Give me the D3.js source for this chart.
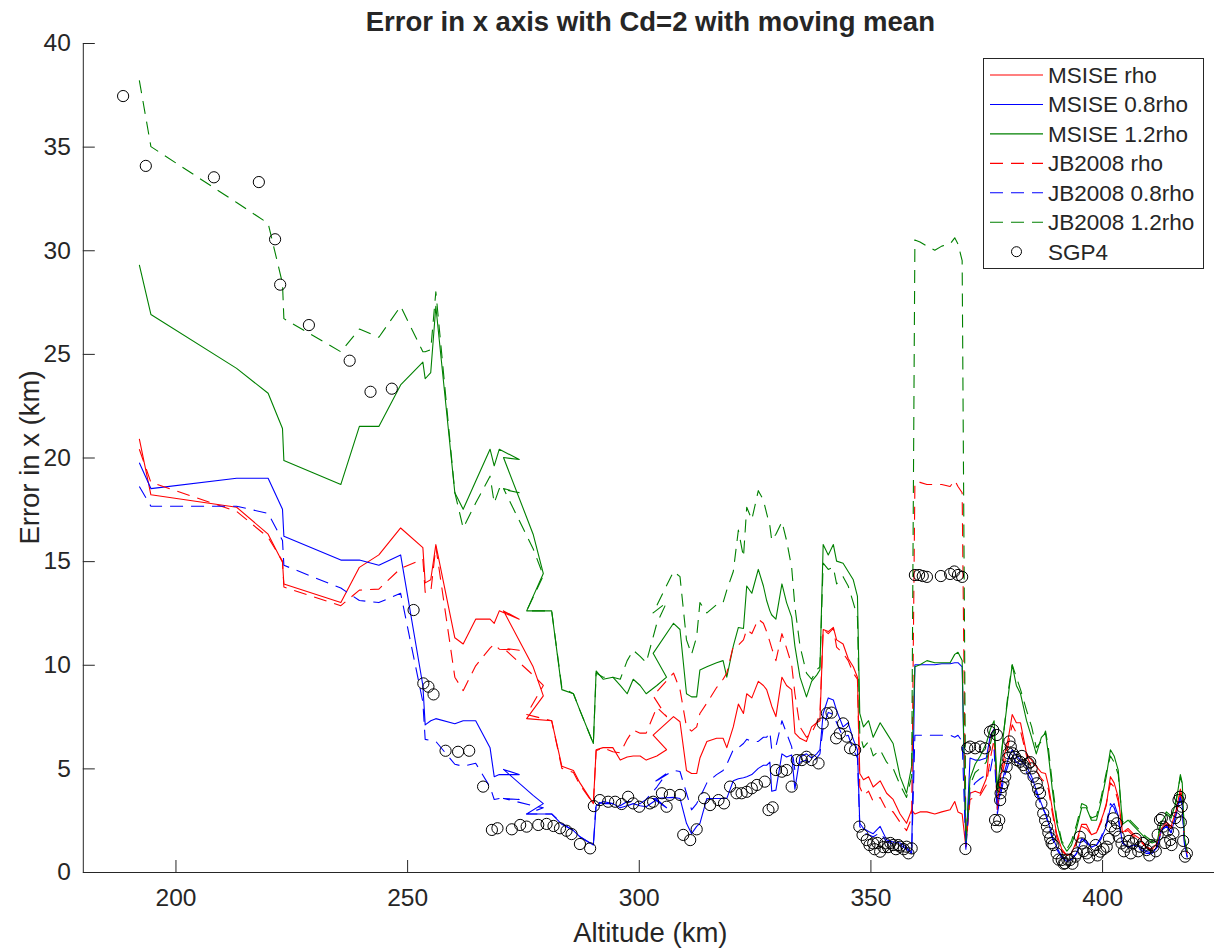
<!DOCTYPE html>
<html>
<head>
<meta charset="utf-8">
<script src="https://cdn.jsdelivr.net/npm/d3@7"></script>
<style>
  body { margin: 0; background: #fff; }
  text { font-family: "Liberation Sans", Arial, Helvetica, sans-serif; fill: #262626; }
</style>
</head>
<body>
<svg id="chart" width="1214" height="951"></svg>
<script>
// Altitude of each averaged sample (km), in sample order (the track doubles back in places)
const altitude = [
  192.2, 194.7, 213.2, 220.0, 223.1, 223.4, 235.7, 239.7, 243.9, 248.6,
  253.4, 253.9, 255.1, 256.2, 260.3, 262.1, 264.8, 267.9, 268.8, 269.9,
  274.2, 270.8, 277.2, 279.4, 275.8, 281.2, 283.4, 285.9, 287.3, 290.2,
  290.8, 292.3, 294.4, 296.0, 297.5, 298.8, 300.3, 301.6, 303.9, 306.0,
  303.1, 307.5, 308.9, 310.3, 311.4, 312.5, 313.2, 314.7, 316.8, 318.2,
  319.0, 320.4, 321.5, 322.6, 323.3, 324.4, 325.8, 326.9, 327.6, 328.3,
  328.7, 329.6, 330.9, 331.9, 333.0, 333.7, 334.8, 336.2, 337.3, 338.4,
  339.1, 339.8, 340.9, 342.0, 342.7, 344.1, 345.2, 346.3, 347.2, 347.7,
  348.5, 349.6, 350.6, 352.1, 353.5, 354.9, 356.4, 357.8, 358.9, 359.6,
  360.7, 362.2, 363.9, 365.4, 367.2, 368.2, 368.9, 369.8, 370.6, 371.5,
  372.6, 373.7, 375.0, 375.9, 376.7, 377.4, 378.0, 378.9, 379.8, 380.6,
  381.5, 382.4, 383.7, 384.8, 385.8, 386.9, 387.8, 388.4, 389.3, 390.2,
  391.3, 392.4, 393.4, 394.5, 395.6, 396.6, 397.7, 398.8, 399.8, 400.9,
  401.8, 402.6, 403.5, 404.4, 405.6, 406.9, 408.2, 409.5, 410.8, 411.9,
  412.8, 413.9, 414.9, 416.0, 416.9, 417.3, 417.8, 418.4
];

// MSISE density model, nominal rho
const msiseRho = [
  20.9, 18.2, 17.6, 16.3, 14.95, 13.9, 13.0, 14.7, 15.3, 16.6,
  15.65, 13.95, 14.1, 15.8, 11.3, 11.0, 12.2, 12.2, 12.0, 12.6,
  12.2, 12.6, 9.9, 8.5, 7.4, 7.3, 5.1, 4.9, 4.3, 3.3,
  5.9, 6.0, 6.0, 5.4, 5.55, 5.6, 5.6, 5.4, 5.6, 5.9,
  6.6, 7.5, 7.25, 4.9, 4.75, 4.75, 5.5, 6.3, 6.45, 6.45,
  6.0, 7.0, 8.1, 7.65, 8.6, 8.4, 9.2, 9.0, 8.8, 8.3,
  8.0, 7.5, 9.4, 9.0, 8.8, 6.7, 6.45, 6.3, 7.0, 7.2,
  7.3, 11.7, 11.6, 11.8, 11.2, 11.0, 10.3, 9.9, 9.4, 4.75,
  4.45, 4.6, 4.1, 4.4, 3.8, 3.5, 2.8, 2.35, 3.0, 2.8,
  2.9, 2.9, 2.8, 2.9, 3.0, 3.4, 2.9, 2.8, 1.2, 3.8,
  3.9, 3.8, 4.5, 6.6, 6.9, 3.2, 4.5, 5.6, 6.5, 7.6,
  7.2, 7.2, 5.7, 5.4, 5.1, 4.8, 4.75, 4.2, 3.0, 1.85,
  1.1, 0.8, 0.9, 1.5, 2.3, 2.3, 1.8, 1.9, 2.5, 3.2,
  4.6, 4.3, 3.6, 1.9, 2.1, 1.8, 1.6, 1.2, 1.1, 1.4,
  2.1, 2.4, 2.2, 3.0, 4.0, 3.6, 1.5, 0.9
];

// MSISE density model, 0.8 rho
const msise08 = [
  19.75, 18.5, 19.0, 19.0, 17.5, 16.2, 15.05, 15.05, 14.8, 15.3,
  9.0, 7.1, 7.3, 7.4, 7.15, 7.3, 7.3, 6.0, 4.6, 4.7,
  4.7, 4.95, 3.7, 3.3, 2.8, 2.8, 2.3, 2.0, 1.7, 1.3,
  3.2, 3.4, 3.3, 3.1, 3.2, 3.3, 3.2, 3.15, 3.5, 3.1,
  3.55, 3.6, 3.55, 2.35, 1.85, 2.2, 2.35, 3.55, 3.55, 3.55,
  3.55, 4.4, 4.5, 4.55, 4.6, 4.7, 5.0, 5.15, 5.15, 5.3,
  3.9, 3.95, 5.7, 5.55, 5.65, 4.0, 5.55, 5.7, 5.5, 5.7,
  5.9, 7.65, 8.4, 8.3, 7.8, 7.0, 7.2, 6.4, 5.9, 2.35,
  2.1, 1.95, 1.85, 2.2, 1.55, 1.45, 1.4, 1.2, 0.9, 10.0,
  10.0, 10.0, 10.0, 10.05, 10.05, 10.1, 10.1, 9.9, 1.1, 5.5,
  5.4, 5.4, 5.5, 6.6, 6.9, 3.0, 3.9, 4.8, 5.5, 5.9,
  5.6, 5.4, 5.1, 4.6, 3.95, 3.3, 2.8, 2.4, 1.7, 1.2,
  0.75, 0.5, 0.6, 0.9, 1.6, 1.5, 1.2, 1.3, 1.6, 2.2,
  3.1, 3.3, 2.7, 1.4, 1.2, 1.3, 1.2, 1.0, 0.9, 1.2,
  2.0, 2.3, 1.9, 2.8, 3.7, 3.2, 1.3, 0.7
];

// MSISE density model, 1.2 rho
const msise12 = [
  29.3, 26.9, 24.3, 23.1, 21.4, 19.85, 18.7, 21.5, 21.5, 23.5,
  24.6, 23.8, 24.1, 27.3, 18.3, 17.5, 18.85, 20.4, 19.6, 20.4,
  19.9, 20.0, 16.3, 14.4, 12.6, 12.6, 8.8, 8.6, 7.8, 6.2,
  9.7, 9.3, 9.4, 9.0, 8.6, 9.3, 9.0, 8.6, 9.0, 9.4,
  10.55, 12.0, 11.7, 8.6, 8.45, 8.45, 9.75, 9.9, 10.1, 10.2,
  9.4, 10.9, 11.8, 11.75, 13.8, 13.45, 14.6, 13.8, 13.1, 12.6,
  12.4, 12.2, 13.9, 13.0, 12.3, 10.9, 9.4, 8.45, 9.2, 9.5,
  9.75, 15.8, 15.3, 15.8, 15.0, 14.9, 14.5, 14.1, 13.3, 7.65,
  7.0, 7.3, 6.5, 7.2, 6.7, 6.2, 4.6, 3.8, 5.1, 9.9,
  10.0, 10.2, 10.1, 10.1, 10.1, 10.5, 10.6, 10.2, 1.4, 4.5,
  5.2, 5.6, 6.2, 6.9, 7.3, 4.0, 5.2, 7.0, 8.6, 10.0,
  9.0, 8.6, 7.3, 6.5, 5.7, 6.5, 6.7, 5.7, 3.9, 2.4,
  1.4, 1.0, 1.3, 2.1, 3.1, 3.1, 2.5, 2.5, 3.4, 4.6,
  5.9, 5.6, 4.9, 2.3, 2.5, 2.2, 1.9, 1.6, 1.4, 1.5,
  2.4, 2.8, 2.6, 3.4, 4.7, 4.3, 1.6, 1.0
];

// JB2008 density model, nominal rho
const jbRho = [
  20.4, 18.8, 17.4, 16.15, 15.0, 13.75, 12.85, 13.6, 13.65, 14.65,
  15.1, 13.5, 13.5, 15.7, 9.4, 8.75, 9.95, 10.8, 11.0, 10.75,
  10.7, 10.8, 9.5, 9.0, 7.6, 7.3, 5.0, 4.8, 4.2, 3.3,
  5.85, 6.0, 5.8, 5.75, 6.4, 6.85, 6.7, 6.7, 7.95, 7.5,
  8.5, 9.6, 8.8, 7.0, 6.8, 7.0, 7.65, 8.15, 8.9, 9.3,
  9.6, 10.9, 10.95, 11.2, 11.7, 11.5, 12.2, 12.0, 11.6, 11.1,
  10.8, 10.2, 11.5, 10.8, 10.0, 8.6, 7.0, 6.5, 6.7, 7.2,
  7.65, 11.7, 11.5, 11.75, 10.85, 10.55, 10.2, 9.6, 9.3, 4.1,
  3.7, 3.9, 3.4, 3.6, 3.0, 2.9, 2.4, 2.0, 2.6, 18.8,
  18.8, 18.7, 18.7, 18.7, 18.6, 18.9, 18.6, 18.3, 1.3, 3.5,
  3.6, 3.7, 4.2, 5.5, 6.4, 3.0, 4.2, 5.2, 6.2, 7.1,
  6.7, 6.8, 5.6, 5.1, 4.9, 4.5, 4.3, 4.0, 2.8, 1.7,
  1.0, 0.8, 0.9, 1.4, 2.2, 2.1, 1.8, 1.9, 2.4, 3.3,
  4.3, 4.1, 3.4, 1.9, 2.0, 1.7, 1.5, 1.2, 1.0, 1.3,
  2.0, 2.3, 2.1, 2.8, 3.8, 3.5, 1.4, 0.9
];

// JB2008 density model, 0.8 rho
const jb08 = [
  18.6, 17.65, 17.65, 17.3, 16.0, 14.8, 13.7, 13.1, 13.0, 13.45,
  8.2, 6.4, 6.35, 6.3, 5.2, 5.1, 5.25, 4.1, 3.5, 3.55,
  3.5, 3.55, 3.2, 3.1, 2.8, 2.8, 2.35, 2.0, 1.7, 1.3,
  3.4, 3.3, 3.3, 3.2, 3.4, 3.4, 3.3, 3.5, 4.1, 4.75,
  4.3, 4.9, 4.85, 3.8, 3.0, 3.3, 3.6, 4.3, 4.7, 4.9,
  5.2, 5.9, 6.0, 6.2, 6.4, 6.3, 6.3, 6.5, 6.5, 6.75,
  5.9, 6.05, 7.3, 6.7, 6.05, 4.9, 5.3, 5.4, 5.2, 5.5,
  5.7, 7.0, 7.7, 7.6, 7.2, 6.5, 6.6, 5.9, 5.5, 2.2,
  1.9, 1.8, 1.7, 1.9, 1.45, 1.35, 1.3, 1.1, 0.9, 6.6,
  6.6, 6.6, 6.6, 6.6, 6.6, 6.5, 6.6, 6.3, 1.1, 3.9,
  4.3, 4.5, 4.7, 4.9, 5.9, 2.8, 3.6, 4.6, 5.2, 5.6,
  5.3, 5.2, 4.8, 4.4, 3.8, 3.2, 2.8, 2.3, 1.6, 1.1,
  0.7, 0.5, 0.6, 0.9, 1.6, 1.4, 1.2, 1.3, 1.7, 2.3,
  3.3, 3.1, 2.5, 1.4, 1.2, 1.3, 1.1, 0.9, 0.9, 1.2,
  2.0, 2.2, 1.9, 2.8, 3.6, 3.1, 1.3, 0.7
];

// JB2008 density model, 1.2 rho
const jb12 = [
  38.2, 35.0, 32.3, 31.3, 28.4, 26.7, 25.1, 26.2, 25.8, 27.3,
  25.1, 25.1, 25.2, 28.0, 18.3, 16.6, 17.8, 19.1, 17.8, 18.5,
  18.3, 18.5, 15.6, 14.3, 12.6, 12.6, 8.9, 8.6, 7.8, 6.2,
  9.6, 9.4, 9.4, 9.3, 10.2, 10.7, 10.4, 10.1, 12.0, 13.0,
  12.5, 14.5, 14.25, 11.2, 10.5, 11.35, 13.0, 12.5, 12.9, 13.0,
  13.6, 14.5, 16.5, 15.2, 17.6, 17.0, 18.4, 17.95, 17.3, 16.7,
  16.0, 16.3, 16.9, 16.0, 14.7, 12.8, 10.9, 9.6, 9.3, 9.75,
  9.9, 14.9, 14.6, 14.7, 13.9, 14.25, 13.8, 13.0, 12.3, 6.7,
  6.0, 6.3, 5.6, 5.9, 5.3, 5.0, 4.2, 3.6, 4.6, 30.5,
  30.4, 30.2, 30.0, 30.2, 30.3, 30.6, 30.3, 29.5, 1.5, 4.2,
  4.8, 5.0, 5.3, 6.2, 6.9, 3.7, 5.0, 7.0, 8.8, 10.0,
  9.4, 8.8, 7.8, 7.0, 6.0, 6.3, 6.8, 6.0, 4.2, 2.6,
  1.5, 1.1, 1.5, 2.3, 3.3, 3.2, 2.6, 2.7, 3.6, 4.8,
  5.6, 5.3, 4.7, 2.4, 2.6, 2.3, 2.0, 1.7, 1.5, 1.6,
  2.5, 2.9, 2.7, 3.5, 4.6, 4.2, 1.6, 1.0
];

// SGP4 propagation error, sampled at its own altitudes
const sgp4Alt = [
  188.7, 193.6, 208.3, 218.0, 221.5, 222.6, 228.8, 237.6, 242.1, 246.7,
  251.4, 253.5, 254.6, 255.7, 258.3, 261.0, 263.4, 266.4, 268.3, 269.5,
  272.6, 274.4, 275.8, 278.3, 280.1, 281.6, 283.0, 284.4, 285.5, 287.3,
  289.5, 290.3, 291.6, 293.4, 294.9, 296.3, 297.7, 298.8, 300.1, 302.4,
  303.1, 305.0, 306.0, 306.7, 308.9, 309.6, 311.1, 312.5, 314.1, 315.4,
  317.2, 318.4, 319.7, 321.1, 322.2, 323.3, 324.4, 325.5, 327.2, 328.0,
  328.9, 329.6, 330.9, 331.9, 333.0, 334.1, 335.2, 336.2, 337.3, 338.8,
  339.7, 340.6, 341.6, 342.6, 343.4, 344.1, 344.9, 345.6, 346.7, 347.6,
  348.3, 349.2, 349.8, 350.6, 350.9, 351.5, 352.1, 352.8, 353.2, 353.8,
  354.3, 354.9, 355.5, 356.0, 356.4, 357.2, 357.8, 358.2, 358.9,
  359.6, 360.5, 361.3, 362.2, 365.2, 367.2, 368.1, 368.9, 369.8, 370.5,
  370.9, 371.5, 372.6, 373.7, 374.7, 375.8, 376.5, 377.3, 376.9, 377.3,
  377.8, 378.0, 378.1, 378.4, 378.7, 379.1, 379.4, 379.6, 379.8, 380.0,
  380.3, 380.7, 381.2, 381.6, 382.3, 382.7, 383.0, 383.5, 384.1, 384.5,
  384.8, 385.2, 385.9, 386.2, 386.6, 386.9, 387.3, 387.7, 388.1, 388.4,
  388.8, 389.1, 389.5, 390.2, 390.6, 391.3, 391.7, 392.0, 392.5, 393.1,
  393.6, 394.2, 394.6, 395.2, 395.6, 396.0, 396.7, 397.2, 398.1, 398.6,
  399.0, 399.6, 400.3, 401.0, 401.5, 401.9, 402.4, 402.8, 403.2, 403.6,
  404.2, 404.7, 405.3, 405.8, 406.2, 406.7, 407.3, 407.8, 408.2, 408.8,
  409.6, 410.2, 410.6, 411.1, 411.6, 412.0, 412.5, 412.9, 413.2, 413.6,
  414.2, 414.7, 415.0, 415.4, 415.8, 416.2, 416.5, 416.8, 417.0, 417.2,
  417.5, 417.9, 418.3
];
const sgp4Err = [
  37.44, 34.07, 33.52, 33.29, 30.53, 28.34, 26.39, 24.67, 23.17, 23.32,
  12.64, 9.1, 8.94, 8.57, 5.85, 5.8, 5.85, 4.12, 2.03, 2.11,
  2.06, 2.27, 2.19, 2.27, 2.32, 2.22, 2.11, 1.99, 1.83, 1.35,
  1.14, 3.18, 3.47, 3.39, 3.39, 3.28, 3.63, 3.31, 3.15, 3.31,
  3.39, 3.8, 3.15, 3.72, 3.72, 1.79, 1.54, 2.06, 3.56, 3.23,
  3.47, 3.31, 4.12, 3.8, 3.8, 3.87, 4.04, 4.2, 4.36, 2.99,
  3.12, 4.92, 4.84, 4.92, 4.12, 5.4, 5.4, 5.56, 5.4, 5.24,
  7.17, 7.66, 7.69, 6.45, 6.69, 7.17, 6.53, 5.97, 5.89, 2.19,
  1.79, 1.54, 1.3, 1.38, 1.1, 1.4, 0.98, 1.2, 1.38, 1.2,
  1.4, 1.3, 1.1, 1.3, 1.22, 1.1, 1.22, 0.9, 1.14,
  14.33, 14.33, 14.28, 14.24, 14.28, 14.38, 14.5, 14.33, 14.24, 1.11,
  5.97, 6.05, 5.97, 6.05, 5.97, 6.77, 6.85, 6.61, 2.51, 2.19,
  2.5, 3.47, 3.8, 4.1, 4.28, 4.6, 5.08, 5.5, 5.73, 6.3,
  6.05, 5.73, 5.56, 5.4, 5.32, 5.6, 5.16, 5.0, 5.24, 5.3,
  5.0, 4.6, 4.28, 4.0, 3.8, 3.3, 2.83, 2.5, 2.19, 1.9,
  1.63, 1.4, 1.3, 0.9, 0.6, 0.58, 0.4, 0.42, 0.6, 0.58,
  0.4, 0.74, 0.9, 1.7, 1.38, 1.0, 0.9, 0.7, 1.06, 1.3,
  0.8, 0.98, 1.1, 1.22, 1.6, 2.2, 2.59, 2.0, 2.35, 1.7,
  1.38, 1.0, 1.22, 1.5, 0.9, 1.38, 1.6, 1.0, 1.22, 1.4,
  1.06, 0.8, 1.3, 1.22, 1.0, 1.8, 2.51, 2.6, 2.19, 1.4,
  2.0, 1.54, 1.3, 1.87, 2.6, 2.9, 3.47, 3.63, 2.4, 3.15,
  1.5, 0.74, 0.9
];

const xTicks = [200, 250, 300, 350, 400];
const yTicks = [0, 5, 10, 15, 20, 25, 30, 35, 40];

const seriesNames = ["MSISE rho", "MSISE 0.8rho", "MSISE 1.2rho", "JB2008 rho", "JB2008 0.8rho", "JB2008 1.2rho"];
const seriesValues = [msiseRho, msise08, msise12, jbRho, jb08, jb12];
const seriesColors = ["#ff0000", "#0000ff", "#008000", "#ff0000", "#0000ff", "#008000"];
const seriesDashed = [false, false, false, true, true, true];

const svg = d3.select("#chart");
const plot = { left: 82.8, right: 1217.9, top: 43, bottom: 872 };

const x = d3.scaleLinear().domain([180, 425]).range([plot.left, plot.right]);
const y = d3.scaleLinear().domain([0, 40]).range([plot.bottom, plot.top]);

svg.append("rect").attr("width", 1214).attr("height", 951).attr("fill", "#fff");

// Axes with inward ticks, left and bottom only
const axisColor = "#262626";
const xAxis = svg.append("g")
  .attr("transform", `translate(0,${plot.bottom})`)
  .call(d3.axisBottom(x).tickValues(xTicks).tickSizeInner(-12).tickSizeOuter(0).tickPadding(17));
const yAxis = svg.append("g")
  .attr("transform", `translate(${plot.left},0)`)
  .call(d3.axisLeft(y).tickValues(yTicks).tickSizeInner(-12).tickSizeOuter(0).tickPadding(12));

[xAxis, yAxis].forEach(g => {
  g.select(".domain").attr("stroke", axisColor).attr("stroke-width", 1);
  g.selectAll(".tick line").attr("stroke", axisColor).attr("stroke-width", 1);
  g.selectAll(".tick text")
    .attr("fill", axisColor)
    .style("font-family", '"Liberation Sans", Arial, sans-serif')
    .style("font-size", "24.5px");
});

// Series lines
const clip = svg.append("clipPath").attr("id", "plotClip")
  .append("rect").attr("x", plot.left).attr("y", plot.top - 10)
  .attr("width", plot.right - plot.left).attr("height", plot.bottom - plot.top + 10);

const lineGen = d3.line().x(d => x(d[0])).y(d => y(d[1]));
const gLines = svg.append("g").attr("clip-path", "url(#plotClip)");
seriesValues.forEach((vals, i) => {
  const pts = altitude.map((a, k) => [a, vals[k]]);
  gLines.append("path")
    .attr("d", lineGen(pts))
    .attr("fill", "none")
    .attr("stroke", seriesColors[i])
    .attr("stroke-width", 1.1)
    .attr("stroke-linejoin", "round")
    .attr("stroke-dasharray", seriesDashed[i] ? "13,8" : null);
});

// SGP4 markers
svg.append("g").selectAll("circle")
  .data(sgp4Alt.map((a, k) => [a, sgp4Err[k]]))
  .join("circle")
  .attr("cx", d => x(d[0]))
  .attr("cy", d => y(d[1]))
  .attr("r", 5.6)
  .attr("fill", "none")
  .attr("stroke", "#000")
  .attr("stroke-width", 1);

// Title and axis labels
svg.append("text")
  .attr("x", (plot.left + plot.right) / 2).attr("y", 31)
  .attr("text-anchor", "middle")
  .style("font-size", "27.5px").style("font-weight", "bold")
  .attr("fill", "#000")
  .text("Error in x axis with Cd=2 with moving mean");

svg.append("text")
  .attr("x", (plot.left + plot.right) / 2).attr("y", 942)
  .attr("text-anchor", "middle")
  .style("font-size", "27.5px")
  .text("Altitude (km)");

svg.append("text")
  .attr("transform", `translate(39,${(plot.top + plot.bottom) / 2}) rotate(-90)`)
  .attr("text-anchor", "middle")
  .style("font-size", "27.5px")
  .text("Error in x (km)");

// Legend
const legend = svg.append("g");
legend.append("rect")
  .attr("x", 983.5).attr("y", 58.5).attr("width", 220).attr("height", 210)
  .attr("fill", "#fff").attr("stroke", axisColor).attr("stroke-width", 1);

const legendNames = seriesNames.concat(["SGP4"]);
legendNames.forEach((name, i) => {
  const cy = 75 + i * 29.45;
  if (i < 6) {
    legend.append("line")
      .attr("x1", 990).attr("x2", 1043).attr("y1", cy).attr("y2", cy)
      .attr("stroke", seriesColors[i]).attr("stroke-width", 1.1)
      .attr("stroke-dasharray", seriesDashed[i] ? "13,8" : null);
  } else {
    legend.append("circle")
      .attr("cx", 1016.5).attr("cy", cy).attr("r", 5)
      .attr("fill", "none").attr("stroke", "#000").attr("stroke-width", 1);
  }
  legend.append("text")
    .attr("x", 1048).attr("y", cy + 8)
    .style("font-size", "22.5px")
    .attr("fill", "#000")
    .text(name);
});
</script>
</body>
</html>
